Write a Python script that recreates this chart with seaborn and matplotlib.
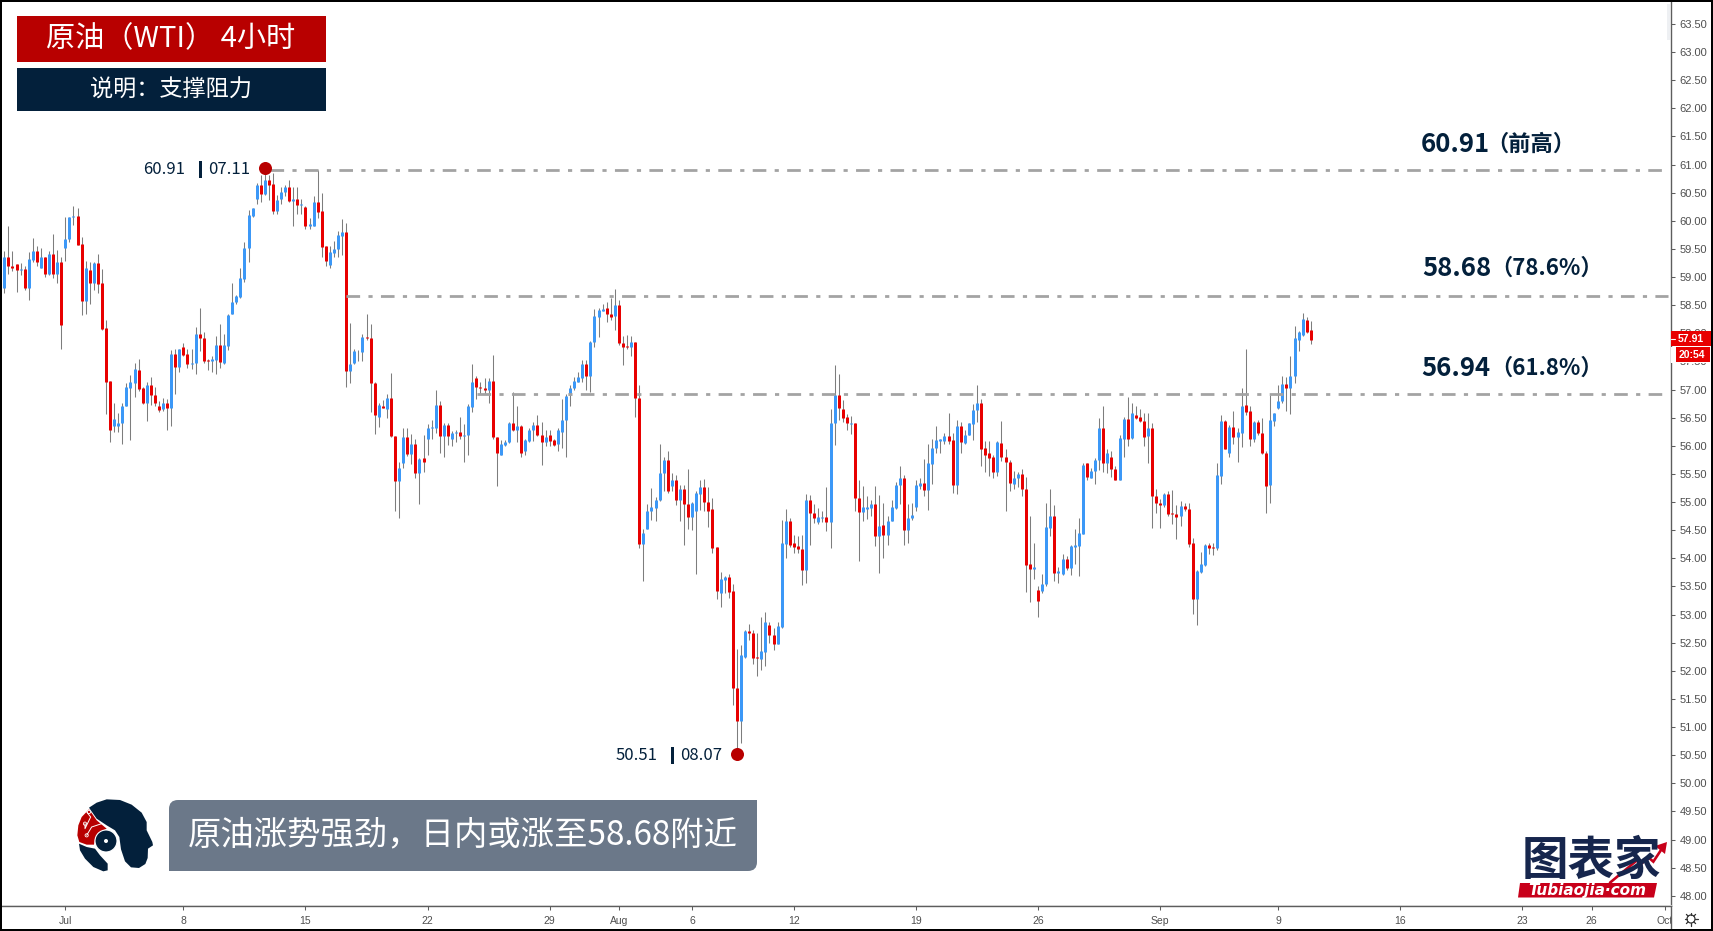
import math
import matplotlib
matplotlib.use("Agg")
import matplotlib.pyplot as plt
from matplotlib.patches import Rectangle, Polygon, Circle, PathPatch
from matplotlib.path import Path
import pandas as pd
import seaborn as sns

# ---------------- data ----------------
direction = ("BRRRBRBBRB" "RBRBRBBBRR" "BRBRRRRBBB" "BBBRRBRRRB" "RBRBRRBBRR" "RBBRBBBBBB"
             "BBBRBRRBBB" "RBRBRBBRRR" "BBBBRBBBBR" "RRBRBRRBBR" "BRBRBBBRBR" "BBRBBBRRRB"
             "RRBBBRBRBB" "BRRBRRBBBB" "BBBRBBBBRR" "BRRRBRRBBB" "BBBRBRBRRB" "BBRRRRBBRR"
             "RBBRRRBBRR" "BBBRRRRBRR" "BBRBBRRRBR" "RBBBRBRBBB" "BRBBBBRBBB" "BBRRBRBBBB"
             "RRRRBRRRBB" "RRRBRBBBRB" "BRBBBBRBBB" "RBRRBBRBRR" "RBRRRBRRRB" "RRRBBBRRBB"
             "RBRBBRRBRR" "RBBBBRBBBB" "RR")

body_top = [
59.35,59.35,59.19,59.23,59.14,59.14,59.32,59.46,59.46,59.35,
59.35,59.41,59.41,59.27,59.27,59.67,60.06,60.09,60.09,59.58,
59.16,59.13,59.25,59.25,58.89,58.10,57.15,56.48,56.40,56.70,
57.04,57.13,57.37,57.35,57.02,57.08,57.08,56.90,56.70,56.76,
56.76,57.63,57.63,57.72,57.75,57.63,57.48,57.99,57.98,57.92,
57.53,57.54,57.79,57.79,57.79,58.33,58.56,58.67,58.98,59.52,
60.10,60.23,60.63,60.63,60.73,60.73,60.66,60.37,60.52,60.60,
60.60,60.39,60.39,60.30,60.24,59.94,60.34,60.34,60.17,59.55,
59.45,59.50,59.74,59.80,59.80,57.45,57.69,57.69,57.94,57.94,
57.92,57.11,56.72,56.71,56.85,56.85,56.18,55.60,56.15,56.15,
56.03,56.03,55.77,55.78,56.32,56.33,56.73,56.73,56.37,56.37,
56.23,56.24,56.24,56.19,56.71,57.14,57.20,57.05,57.03,57.16,
57.16,56.16,56.03,56.07,56.41,56.40,56.35,56.35,56.11,56.28,
56.37,56.37,56.19,56.16,56.19,56.10,56.29,56.46,56.89,57.02,
57.16,57.22,57.46,57.46,57.85,58.31,58.42,58.44,58.45,58.35,
58.50,58.50,57.82,57.78,57.85,57.85,56.85,54.45,54.85,54.91,
55.04,55.51,55.74,55.74,55.40,55.40,55.23,55.23,54.97,54.98,
55.16,55.26,55.26,55.01,54.87,54.20,53.63,53.66,53.66,53.42,
51.69,52.28,52.70,52.70,52.68,52.24,52.35,52.87,52.82,52.63,
52.80,54.27,54.66,54.66,54.27,54.22,54.17,55.04,55.04,54.80,
54.74,54.74,54.74,56.40,56.90,56.90,56.65,56.51,56.41,56.41,
55.08,54.91,54.91,54.97,54.97,54.58,54.59,54.66,54.91,55.31,
55.42,55.42,54.72,54.77,55.30,55.34,55.34,55.69,55.97,56.10,
56.13,56.18,56.18,56.10,56.35,56.35,56.20,56.40,56.64,56.77,
56.77,55.96,55.87,55.80,56.06,56.05,55.80,55.72,55.43,55.50,
55.50,55.24,53.90,53.85,53.44,53.55,54.55,54.75,54.75,53.77,
53.98,53.98,54.22,54.23,54.45,55.66,55.69,55.56,55.75,56.31,
56.31,55.88,55.80,55.59,56.14,56.48,56.48,56.59,56.55,56.51,
56.45,56.32,56.32,55.10,54.98,55.14,55.14,54.80,54.79,54.93,
54.93,54.88,54.27,53.77,53.90,54.24,54.23,54.20,55.48,56.45,
56.45,56.34,56.33,56.24,56.70,56.72,56.62,56.43,56.43,56.22,
55.87,56.46,56.59,56.79,57.10,57.10,57.25,57.91,58.02,58.26,
58.24,58.06]

body_bottom = [
58.81,59.19,59.17,59.13,59.13,58.81,58.81,59.31,59.26,59.17,
59.06,59.06,59.06,59.06,58.14,59.52,59.67,60.06,59.57,58.58,
58.58,58.90,58.90,58.88,58.08,57.14,56.29,56.36,56.36,56.40,
56.70,57.03,57.12,57.01,56.76,56.77,56.90,56.76,56.64,56.65,
56.68,56.68,57.41,57.41,57.62,57.46,57.46,57.47,57.91,57.51,
57.51,57.50,57.53,57.49,57.48,57.78,58.34,58.55,58.65,58.97,
59.51,60.09,60.39,60.47,60.48,60.64,60.17,60.17,60.39,60.51,
60.36,60.36,60.28,60.28,59.91,59.91,59.91,60.16,59.54,59.29,
59.22,59.43,59.50,59.73,57.33,57.33,57.48,57.68,57.67,57.91,
57.11,56.54,56.51,56.68,56.66,56.18,55.38,55.38,55.70,55.86,
55.86,55.51,55.51,55.71,56.13,56.31,56.32,56.17,56.18,56.18,
56.13,56.22,56.18,56.18,56.19,56.69,57.04,57.03,56.99,56.99,
56.15,55.87,55.84,56.02,56.06,56.29,56.29,55.87,55.90,56.08,
56.29,56.19,56.07,56.07,56.08,56.02,56.03,56.25,56.46,56.90,
57.02,57.14,57.21,57.25,57.25,57.84,58.29,58.40,58.34,58.29,
58.30,57.83,57.76,57.75,57.75,56.85,54.26,54.26,54.53,54.84,
54.90,55.03,55.51,55.20,55.29,55.03,55.03,54.97,54.74,54.74,
54.84,55.14,55.00,54.85,54.19,53.42,53.38,53.62,53.40,51.69,
51.11,51.11,52.25,52.67,52.22,52.22,52.21,52.34,52.63,52.48,
52.48,52.78,54.26,54.23,54.20,54.17,53.79,53.79,54.80,54.72,
54.64,54.72,54.65,54.65,56.40,56.67,56.50,56.40,56.39,55.08,
54.82,54.82,54.88,54.90,54.40,54.40,54.42,54.42,54.67,54.90,
55.30,54.50,54.50,54.71,54.91,55.29,55.22,55.22,55.68,55.96,
56.09,56.09,56.09,55.30,55.30,56.07,56.05,56.20,56.39,56.63,
55.95,55.83,55.78,55.54,55.54,55.80,55.71,55.34,55.32,55.42,
55.23,53.88,53.81,53.81,53.24,53.42,53.54,54.54,53.74,53.74,
53.72,53.82,53.83,54.20,54.22,54.44,55.44,55.43,55.55,55.74,
55.69,55.69,55.58,55.40,55.40,56.13,56.13,56.14,56.50,56.44,
56.16,56.17,55.10,54.99,54.94,54.94,54.79,54.79,54.74,54.75,
54.87,54.25,53.27,53.27,53.76,53.88,54.19,54.19,54.19,55.47,
55.94,55.88,56.16,56.15,56.23,56.61,56.13,56.12,56.22,55.87,
55.29,55.30,56.45,56.67,56.79,57.02,57.03,57.24,57.89,57.97,
58.03,57.89]

highs = [
59.47,59.90,59.47,59.23,59.25,59.19,59.45,59.69,59.56,59.51,
59.36,59.47,59.77,59.48,59.35,60.06,60.06,60.26,60.22,59.72,
59.29,59.27,59.26,59.41,59.14,58.24,57.15,56.76,56.59,56.76,
57.11,57.26,57.47,57.54,57.05,57.14,57.22,57.05,56.79,56.85,
56.83,57.70,57.72,57.73,57.82,57.73,57.73,58.12,58.45,58.02,
57.54,57.59,57.95,58.16,57.99,58.34,58.90,58.68,59.16,59.62,
60.19,60.23,60.67,60.82,60.85,60.82,60.85,60.46,60.61,60.64,
60.73,60.60,60.60,60.38,60.27,60.05,60.44,60.90,60.49,59.55,
59.55,59.64,59.82,60.03,59.96,58.19,57.73,57.70,57.99,58.34,
58.16,57.13,56.76,56.82,56.93,57.29,56.18,55.72,56.32,56.32,
56.21,56.12,55.78,56.19,56.38,56.46,57.00,56.80,56.40,56.40,
56.26,56.28,56.52,56.38,56.74,57.45,57.24,57.13,57.20,57.20,
57.62,56.16,56.10,56.10,56.43,56.95,56.71,56.37,56.12,56.31,
56.43,56.55,56.43,56.29,56.28,56.13,56.31,56.83,56.93,57.08,
57.22,57.32,57.53,57.53,57.87,58.43,58.45,58.52,58.55,58.62,
58.79,58.60,57.96,57.97,57.95,57.85,57.08,54.53,54.97,55.25,
55.09,56.03,55.81,55.91,55.51,55.48,55.30,55.30,55.59,55.01,
55.19,55.39,55.41,55.26,55.07,54.21,53.76,53.69,53.73,53.54,
52.38,52.46,52.73,52.83,52.73,52.68,52.95,53.04,52.87,52.76,
52.87,54.69,54.88,54.71,54.42,54.39,54.42,55.14,55.13,54.96,
54.89,54.85,55.26,56.65,57.43,57.27,56.82,56.56,56.53,56.41,
55.40,55.29,55.10,55.04,55.29,55.12,54.98,54.75,55.04,55.36,
55.64,55.48,54.97,54.99,55.40,55.42,55.76,56.04,56.12,56.36,
56.13,56.22,56.58,56.22,56.46,56.43,56.28,56.41,56.74,57.09,
56.84,56.09,56.09,55.84,56.09,56.44,55.94,55.75,55.55,55.54,
55.59,55.45,54.75,54.27,53.51,53.72,54.99,55.23,54.95,53.85,
54.08,54.04,54.24,54.53,54.72,55.69,55.70,55.60,55.78,56.50,
56.71,55.94,55.90,55.64,56.19,56.52,56.86,56.77,56.70,56.65,
56.58,56.59,56.40,55.24,55.05,55.17,55.19,55.22,54.95,55.02,
54.98,54.99,54.36,53.79,54.12,54.25,54.27,54.27,55.70,56.54,
56.46,56.37,56.62,56.32,57.02,57.72,56.71,56.44,56.46,56.49,
55.91,56.91,56.59,57.08,57.25,57.22,57.59,58.13,58.05,58.36,
58.29,58.22]

lows = [
58.71,59.06,59.10,58.74,59.04,58.77,58.59,59.27,59.19,59.16,
59.01,59.04,58.98,58.90,57.73,59.29,59.63,59.93,59.57,58.33,
58.34,58.53,58.77,58.71,58.06,56.57,56.06,56.25,56.24,56.03,
56.70,56.10,56.86,56.98,56.74,56.45,56.73,56.70,56.61,56.62,
56.28,56.36,56.93,57.32,57.59,57.38,57.36,57.28,57.68,57.47,
57.35,57.32,57.28,57.38,57.45,57.70,58.34,58.53,58.62,58.91,
59.27,60.07,60.30,60.34,60.46,60.37,60.12,60.13,60.30,60.45,
60.34,59.91,60.13,60.12,59.85,59.85,59.90,60.05,59.36,59.19,
59.17,59.36,59.35,59.39,57.05,57.12,57.46,57.50,57.50,57.88,
56.60,56.21,56.33,56.67,56.49,56.16,54.85,54.71,55.60,55.82,
55.68,55.42,54.97,55.54,55.84,56.13,56.22,55.88,55.81,56.02,
56.00,56.07,56.13,55.72,55.84,56.60,56.83,56.92,56.93,56.77,
56.13,55.29,55.84,55.99,56.05,56.27,56.07,55.81,55.84,56.06,
56.08,56.18,55.66,55.99,55.99,55.99,55.90,55.96,55.81,56.71,
57.00,57.13,57.14,57.00,56.95,57.76,57.94,58.39,58.20,58.24,
58.06,57.79,57.43,57.73,57.60,56.52,54.18,53.59,54.52,54.68,
54.67,55.02,55.19,55.16,55.19,54.94,54.67,54.23,54.53,54.50,
53.72,54.86,54.84,54.55,54.10,53.27,53.14,53.39,53.30,51.39,
50.59,50.72,52.22,52.55,52.13,51.91,52.02,52.08,52.49,52.37,
52.47,52.77,54.01,54.21,54.10,54.10,53.53,53.56,54.24,54.62,
54.61,54.64,54.48,54.19,56.02,56.46,56.43,56.28,56.21,54.85,
53.95,54.66,54.70,54.76,54.22,53.74,54.01,54.24,54.66,54.88,
54.97,54.24,54.27,54.68,54.84,55.24,55.10,54.86,55.33,55.88,
55.87,56.03,56.04,55.17,55.14,55.88,56.03,56.19,56.10,56.43,
55.65,55.54,55.46,55.42,55.46,55.73,54.84,55.20,55.24,55.26,
55.11,53.40,53.22,53.63,52.96,53.38,53.51,54.40,53.60,53.56,
53.70,53.80,53.70,53.90,53.69,54.43,55.40,55.42,55.32,55.57,
55.53,55.52,55.45,55.39,55.40,55.81,55.99,56.13,56.47,56.43,
55.99,55.70,54.54,54.81,54.54,54.92,54.75,54.61,54.34,54.58,
54.85,54.21,53.01,52.82,53.74,53.87,54.08,54.06,54.14,55.33,
55.94,55.81,56.03,55.72,55.98,56.55,56.00,56.06,56.20,55.85,
54.81,54.99,56.36,56.66,56.77,56.62,56.57,57.12,57.69,57.95,
58.01,57.81]

level_names = ["前高", "78.6%", "61.8%"]
level_values = [60.91, 58.68, 56.94]
level_line_prices = [60.905, 58.66, 56.925]
level_start_bars = [65.3, 84.0, 116.1]
level_end_bar = 408.8

swing_bars = [64, 180]
swing_prices = [60.94, 50.52]

x_tick_bars = [15, 44, 74, 104, 134, 151, 169, 194, 224, 254, 284, 313, 343, 373, 390, 408]
x_tick_labels = ["Jul", "8", "15", "22", "29", "Aug", "6", "12", "19", "26", "Sep", "9", "16", "23", "26", "Oct"]
y_ticks = [48 + 0.5 * k for k in range(32)]

# ---------------- frames ----------------
bars = list(range(len(highs)))
assert len(direction) == len(body_top) == len(body_bottom) == len(highs) == len(lows)
wicks = pd.DataFrame({"bar": bars + bars, "price": highs + lows})
bodies = pd.DataFrame({"bar": bars + bars, "price": body_top + body_bottom,
                       "dir": list(direction) + list(direction)})

sns.set_theme(style="white")
FONT = ["Noto Sans CJK SC", "DejaVu Sans"]
plt.rcParams["font.family"] = FONT

W, H = 1713, 931
NAVY = "#03203b"
DRED = "#b80000"
AXC = "#5d5d5d"
fig = plt.figure(figsize=(W / 100, H / 100), dpi=100, facecolor="white")
ax = fig.add_axes([2 / W, 1 - 906 / H, (1671 - 2) / W, (906 - 2) / H])

sns.lineplot(data=wicks, x="bar", y="price", units="bar", estimator=None, sort=False,
             color="#7d7d7d", linewidth=0.75, ax=ax, legend=False, zorder=2, solid_capstyle="butt")
sns.lineplot(data=bodies, x="bar", y="price", units="bar", hue="dir", estimator=None, sort=False,
             palette={"B": "#3b98f7", "R": "#e80000"}, linewidth=2.15, ax=ax, legend=False,
             zorder=3, solid_capstyle="butt")

pattern = (0, (4.9, 3.0, 1.5, 3.0))
for start, value in zip(level_start_bars, level_line_prices):
    sns.lineplot(x=[start, level_end_bar], y=[value, value], color="#a3a3a3", linewidth=2.0,
                 linestyle=pattern, estimator=None, ax=ax, legend=False, zorder=4)

sns.scatterplot(x=swing_bars, y=swing_prices, color=DRED, s=88, linewidth=0, ax=ax, zorder=5, legend=False)

ax.set_xlim(-0.565, 409.5)
ax.set_ylim(47.82, 63.89)
ax.set_xlabel("")
ax.set_ylabel("")
ax.yaxis.tick_right()
ax.set_yticks(y_ticks)
ax.set_yticklabels([f"{v:.2f}" for v in y_ticks], family="Liberation Sans", fontsize=8, color="#4f4f4f")
ax.set_xticks(x_tick_bars)
ax.set_xticklabels(x_tick_labels, family="Liberation Sans", fontsize=7.5, color="#4f4f4f")
ax.tick_params(axis="y", which="both", right=True, left=False, length=3, width=0.75, color=AXC, pad=3)
ax.tick_params(axis="x", which="both", bottom=True, length=3, width=0.75, color=AXC, pad=4)
for name in ("top", "left"):
    ax.spines[name].set_visible(False)
for name in ("right", "bottom"):
    ax.spines[name].set_color(AXC)
    ax.spines[name].set_linewidth(1.0)
ax.grid(False)

# ---------------- overlay in pixel space ----------------
ov = fig.add_axes([0, 0, 1, 1], zorder=10)
ov.set_xlim(0, W)
ov.set_ylim(H, 0)
ov.axis("off")
ov.patch.set_visible(False)

# scroll band, corner cell
ov.add_patch(Rectangle((1667, 4), 3, 36, fc="#eef0f3", ec="none"))
ov.add_patch(Rectangle((1672, 907), 38, 22, fc="white", ec="none"))
ov.plot([1671, 1671], [906, 929], color=AXC, lw=1.0)
ov.plot([2, 1671], [905, 905], color="#d0d0d0", lw=0.7)

# title boxes
ov.add_patch(Rectangle((17, 16), 309, 46, fc=DRED, ec="none"))
ov.add_patch(Rectangle((17, 68), 309, 43, fc=NAVY, ec="none"))
ov.text(171, 39.5, "原油（WTI） 4小时", color="white", fontsize=21, ha="center", va="center")
ov.text(171, 90, "说明：支撑阻力", color="white", fontsize=16.7, ha="center", va="center")

# swing labels
def swing_label(x_price, x_bar, x_date, y, price, date):
    ov.text(x_price, y, price, color=NAVY, fontsize=12, ha="left", va="center")
    ov.add_patch(Rectangle((x_bar - 1.5, y - 8.5), 3, 17, fc=NAVY, ec="none"))
    ov.text(x_date, y, date, color=NAVY, fontsize=12, ha="left", va="center")

swing_label(143.5, 200, 208.5, 169.5, "60.91", "07.11")
swing_label(615.5, 672, 680.5, 755.5, "50.51", "08.07")

# level captions
caption_x = [1421, 1422, 1421]
caption_sub_x = [1486, 1490, 1490]
caption_y = [144, 268.5, 368]
for lx, sx, ly, val, nm in zip(caption_x, caption_sub_x, caption_y, level_values, level_names):
    ov.text(lx, ly, f"{val:.2f}", color=NAVY, fontsize=18.5, fontweight="bold", ha="left", va="center")
    ov.text(sx, ly, f"（{nm}）", color=NAVY, fontsize=16, fontweight="bold", ha="left", va="center")

# price boxes
ov.add_patch(Rectangle((1671, 331), 40, 15, fc="#e80000", ec="none", zorder=6))
ov.add_patch(Rectangle((1671, 347), 40, 16, fc="white", ec="none", zorder=6))
ov.add_patch(Rectangle((1676, 347), 34, 15, fc="#e80000", ec="none", zorder=7))
ov.plot([1671, 1675], [338.5, 338.5], color="white", lw=0.8, zorder=8)
ov.text(1691, 338.5, "57.91", color="white", fontsize=7.5, fontweight="bold", family="Liberation Sans",
        ha="center", va="center", zorder=8)
ov.text(1692, 354.5, "20:54", color="white", fontsize=7.5, fontweight="bold", family="Liberation Sans",
        ha="center", va="center", zorder=8)

# gear
gx, gy = 1691, 919
ov.add_patch(Circle((gx, gy), 4, fc="none", ec="#333333", lw=0.9))
for k in range(8):
    a = k * math.pi / 4
    ov.plot([gx + 4 * math.cos(a), gx + 6.5 * math.cos(a)], [gy + 4 * math.sin(a), gy + 6.5 * math.sin(a)],
            color="#333333", lw=0.9)

# pill
x0, x1, y0, y1, r = 169, 757, 800, 871, 9
verts = [(x0 + r, y0), (x1, y0), (x1, y1 - r), (x1, y1), (x1 - r, y1), (x0, y1), (x0, y0 + r), (x0, y0), (x0 + r, y0)]
codes = [Path.MOVETO, Path.LINETO, Path.LINETO, Path.CURVE3, Path.CURVE3, Path.LINETO, Path.LINETO, Path.CURVE3, Path.CURVE3]
ov.add_patch(PathPatch(Path(verts, codes), fc="#6b7889", ec="none"))
ov.text(463, 835, "原油涨势强劲，日内或涨至58.68附近", color="white", fontsize=24, ha="center", va="center")

# head icon
def hp(pts):
    return [(70 + a / 3, 792 + b / 3) for a, b in pts]

head = [(57, 47), (80, 32), (110, 22), (150, 24), (185, 38), (215, 62), (230, 90), (230, 115), (247, 150), (249, 160),
        (234, 170), (233, 198), (226, 216), (207, 228), (183, 226), (165, 208), (153, 172), (148, 135), (135, 115),
        (110, 100), (80, 80)]
lower = [(27, 155), (50, 165), (75, 170), (90, 190), (113, 215), (113, 235), (100, 238), (70, 225), (45, 200), (30, 175)]
redcap = [(57, 52), (80, 85), (110, 110), (90, 120), (75, 140), (72, 158), (50, 158), (28, 150), (22, 130), (25, 100), (35, 75)]
ov.add_patch(Polygon(hp(head), closed=True, fc=NAVY, ec="none"))
ov.add_patch(Polygon(hp(lower), closed=True, fc=NAVY, ec="none"))
ov.add_patch(Polygon(hp(redcap), closed=True, fc=DRED, ec="none"))
ov.add_patch(Circle((70 + 108 / 3, 792 + 147 / 3), 11, fc=NAVY, ec="white", lw=0.8))
ov.add_patch(Circle((70 + 108 / 3, 792 + 147 / 3), 2, fc="white", ec="none"))
for pts in ([(45, 95), (45, 110), (62, 75), (50, 60)], [(50, 130), (65, 105), (95, 95)]):
    xy = hp(pts)
    ov.plot([p[0] for p in xy], [p[1] for p in xy], color="white", lw=0.7)
for c in [(45, 95), (50, 130), (57, 60)]:
    ov.add_patch(Circle(hp([c])[0], 1.6, fc=DRED, ec="white", lw=0.6))

# watermark
ov.text(1591, 861, "图表家", color="#16264d", fontsize=33.5, fontweight="bold", ha="center", va="center")
ov.add_patch(Polygon([(1520, 883), (1657, 883), (1654, 897.5), (1518, 897.5)], closed=True, fc="#c8001a", ec="none"))
ov.text(1587, 890, "Tubiaojia·com", color="white", fontsize=11, fontweight="bold", style="italic",
        family="DejaVu Sans", ha="center", va="center")
zig = [(930, 308), (1012, 240), (1020, 255), (1045, 232), (1060, 245), (1093, 195)]
zxy = [(1300 + a / 3, 780 + b / 3) for a, b in zig]
ov.plot([p[0] for p in zxy], [p[1] for p in zxy], color="#c8001a", lw=1.9, solid_joinstyle="miter")
ov.add_patch(Polygon([(1667, 842), (1655, 846), (1665, 854)], closed=True, fc="#c8001a", ec="none"))

# frame
for rect in [(0, 0, W, 2), (0, 929, W, 2), (0, 0, 2, H), (1711, 0, 2, H)]:
    ov.add_patch(Rectangle(rect[:2], rect[2], rect[3], fc="black", ec="none", zorder=9))

fig.savefig("out.png", dpi=100, facecolor="white")
